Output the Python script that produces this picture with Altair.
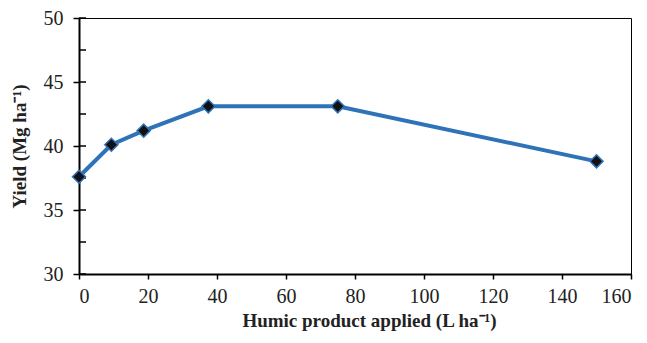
import altair as alt
import pandas as pd

rates = [0, 9.375, 18.75, 37.5, 75, 150]
yields = [37.6, 40.1, 41.2, 43.1, 43.1, 38.8]
inner_y_ticks = [30, 32.5, 35, 37.5, 40, 42.5, 45, 47.5, 50]

df = pd.DataFrame({"rate": rates, "yield": yields})
mdf = pd.DataFrame({"y": inner_y_ticks})

FONT = "Liberation Serif"
xs = alt.Scale(domain=[0, 160], nice=False, zero=False)
ys = alt.Scale(domain=[30, 50], nice=False, zero=False)

xax = alt.Axis(values=list(range(0, 161, 20)), title="Humic product applied (L ha\u207b\u00b9)",
               grid=False, domainColor="black", domainWidth=2, tickColor="black", tickWidth=1.5,
               tickSize=5, labelFont=FONT, labelFontSize=20, labelColor="#222", labelPadding=7,
               titleFont=FONT, titleFontSize=19, titleFontWeight="bold", titleColor="#222",
               titlePadding=5, titleX=290)
yax = alt.Axis(values=list(range(30, 51, 5)), title="Yield (Mg ha\u207b\u00b9)",
               grid=False, domainColor="black", domainWidth=2, tickColor="black", tickWidth=1.5,
               tickSize=6, labelFont=FONT, labelFontSize=20, labelColor="#222", labelPadding=10,
               titleFont=FONT, titleFontSize=19, titleFontWeight="bold", titleColor="#222",
               titlePadding=14)

minor = alt.Chart(mdf).mark_tick(color="black", orient="horizontal", size=7, thickness=1.5,
                                 opacity=1).encode(
    y=alt.Y("y:Q", scale=ys, axis=yax),
    x=alt.value(3.5),
)
line = alt.Chart(df).mark_line(color="#2e72b8", strokeWidth=4).encode(
    x=alt.X("rate:Q", scale=xs, axis=xax),
    y=alt.Y("yield:Q", scale=ys, axis=yax),
)
pts = alt.Chart(df).mark_point(shape="diamond", filled=True, fill="#111", stroke="#2e72b8",
                               strokeWidth=1.5, size=170, opacity=1).encode(
    x=alt.X("rate:Q", scale=xs),
    y=alt.Y("yield:Q", scale=ys),
)

chart = alt.layer(minor, line, pts).properties(
    width=552, height=256,
    autosize=alt.AutoSizeParams(type="none"),
    padding={"left": 71, "top": 10, "right": 8, "bottom": 62},
).configure_view(stroke="black", strokeWidth=1)

chart.save("out.html", embed_options={"renderer": "svg", "actions": False})
